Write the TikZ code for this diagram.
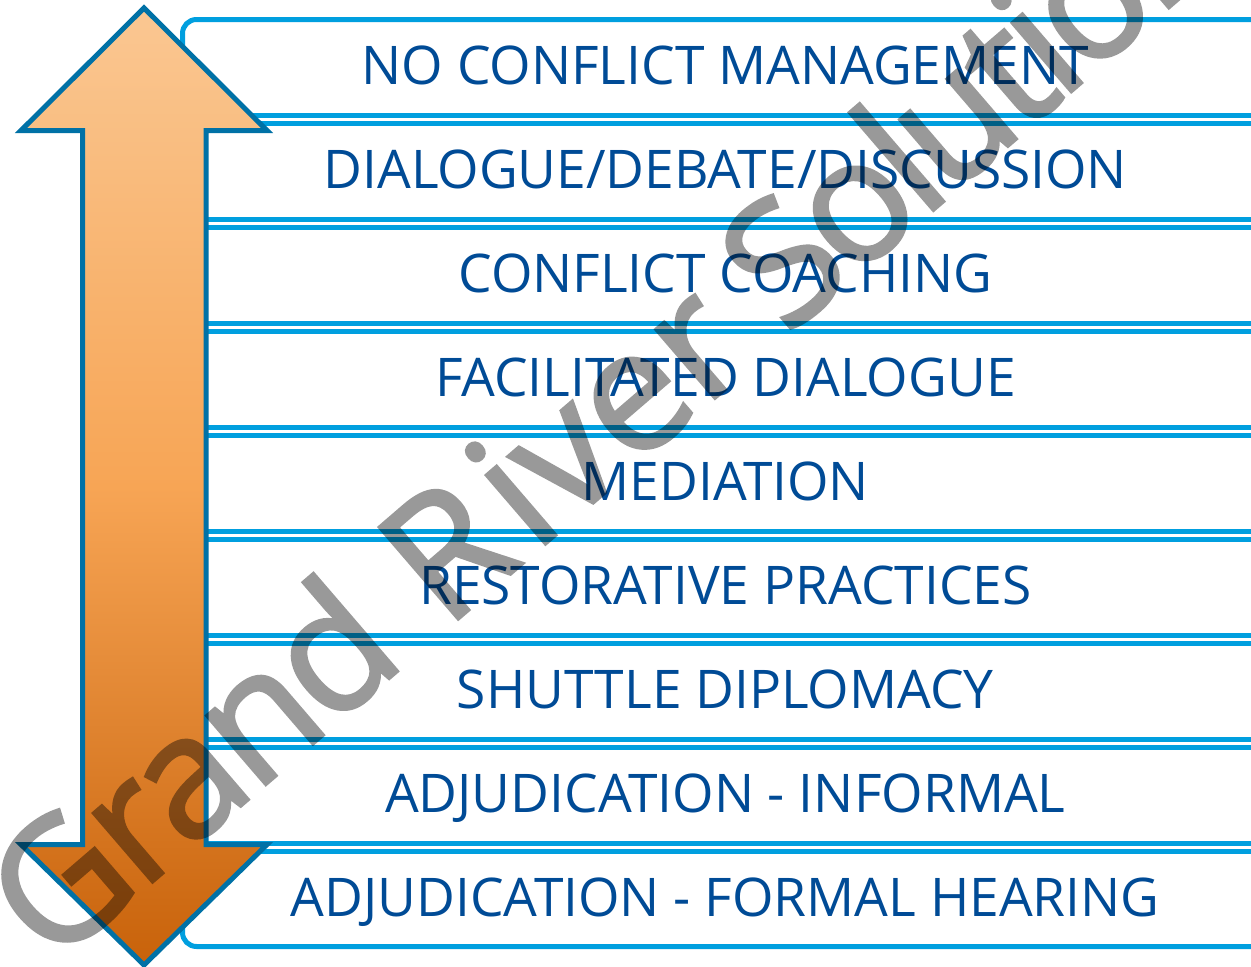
\documentclass[tikz,border=0pt]{standalone}
\usepackage{fontspec}
\setmainfont{Open Sans}
\newfontfamily\wmfont[LetterSpace=-3.2,FakeBold=1.8]{Open Sans}
\newfontfamily\wmwide[FakeBold=1.8]{Open Sans}
\newfontfamily\wmtight[LetterSpace=-5,FakeBold=1.8]{Open Sans}
\definecolor{rowblue}{HTML}{009FDF}
\definecolor{labelblue}{HTML}{004B96}
\definecolor{arrowedge}{HTML}{0071A6}
\definecolor{arrowtop}{HTML}{FAC792}
\definecolor{arrowmid}{HTML}{F7A555}
\definecolor{arrowbot}{HTML}{C8620A}
\pgfdeclareverticalshading{arrowfill}{100bp}{
  color(0bp)=(arrowbot);
  color(25bp)=(arrowbot);
  color(50bp)=(arrowmid);
  color(75bp)=(arrowtop);
  color(100bp)=(arrowtop)}
\tikzset{
  x=1pt,y=-1pt,
  rowline/.style={draw=rowblue,line width=5pt},
  rowlabel/.style={text=labelblue,anchor=base,inner sep=0pt,font=\fontsize{53.3}{53.3}\selectfont},
  bigarrow/.style={draw=arrowedge,line width=5pt,miter limit=10,shading=arrowfill},
  watermark/.style={text=black,anchor=base west,inner sep=0pt,rotate=40.7,font=\wmfont\fontsize{170}{170}\selectfont}
}
\begin{document}
\begin{tikzpicture}
\useasboundingbox (0,0) rectangle (1251,967);
\clip (0,0) rectangle (1251,967);
\fill[white] (0,0) rectangle (1251,967);
% rows
\draw[rowline,rounded corners=14pt] (182.5,116) -- (182.5,19.5) -- (1270,19.5);
\draw[rowline] (190,115.5) -- (1270,115.5);
\foreach \y in {123.5,219.5,227.5,323.5,331.5,427.5,435.5,531.5,539.5,635.5,643.5,739.5,747.5,843.5,851.5}
  \draw[rowline] (190,\y) -- (1270,\y);
\draw[rowline,rounded corners=14pt] (182.5,855) -- (182.5,946.5) -- (1270,946.5);
% labels
\node[rowlabel] (l1) at (725.3,84) {NO CONFLICT MANAGEMENT};
\node[rowlabel] (l2) at (725.3,188) {DIALOGUE/DEBATE/DISCUSSION};
\node[rowlabel] (l3) at (725.3,292) {CONFLICT COACHING};
\node[rowlabel] (l4) at (725.3,396) {FACILITATED DIALOGUE};
\node[rowlabel] (l5) at (725.3,500) {MEDIATION};
\node[rowlabel] (l6) at (725.3,604) {RESTORATIVE PRACTICES};
\node[rowlabel] (l7) at (725.3,708) {SHUTTLE DIPLOMACY};
\node[rowlabel] (l8) at (725.3,812) {ADJUDICATION - INFORMAL};
\node[rowlabel] (l9) at (725.3,916) {ADJUDICATION - FORMAL HEARING};
% arrow
\path[bigarrow] (144,8) -- (267,130.5) -- (206,130.5) -- (206,844.5) -- (267,844.5) -- (144,965) -- (21,844.5) -- (82.5,844.5) -- (82.5,130.5) -- (21,130.5) -- cycle;
% watermark
\begin{scope}[transparency group,opacity=0.4]
\node[watermark] (wm) at (51.5,969) {Grand\hspace{10pt} {\wmwide R\hspace{12pt}iver} \hspace{1pt}{\wmtight Solutions}};
\end{scope}
\end{tikzpicture}
\end{document}
